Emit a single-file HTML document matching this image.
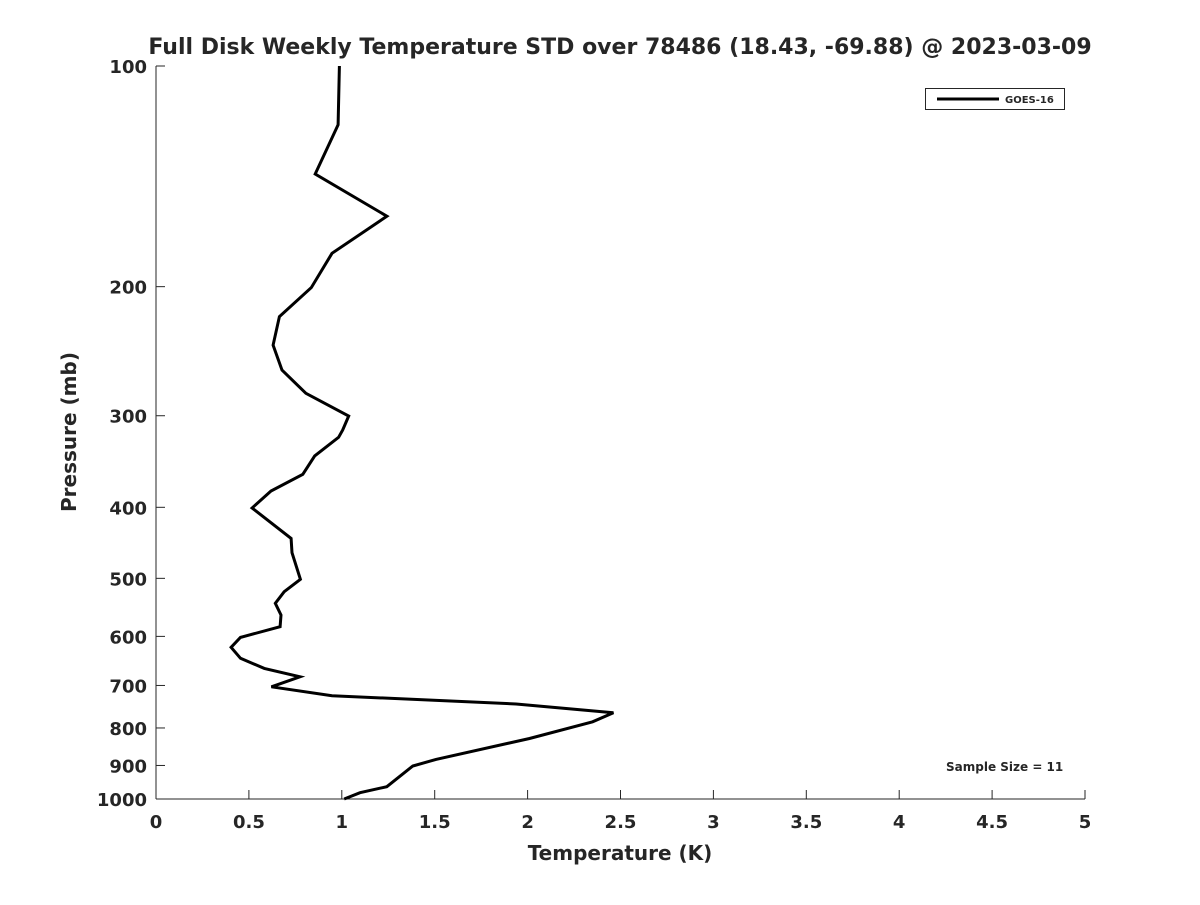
<!DOCTYPE html>
<html><head><meta charset="utf-8"><style>
body{margin:0;background:#fff}
text{font-family:"DejaVu Sans","Liberation Sans",sans-serif;fill:#262626;font-weight:bold}
</style></head><body>
<svg id="chart" width="1200" height="900" xmlns="http://www.w3.org/2000/svg">
<rect width="1200" height="900" fill="#fff"/>
<text x="620" y="54" text-anchor="middle" font-size="22">Full Disk Weekly Temperature STD over 78486 (18.43, -69.88) @ 2023-03-09</text>
<g id="axes"></g>
<polyline id="line" fill="none" stroke="#000" stroke-width="3" stroke-linejoin="miter"/>
<text x="620" y="860" text-anchor="middle" font-size="20">Temperature (K)</text>
<text transform="translate(76,432) rotate(-90)" text-anchor="middle" font-size="20">Pressure (mb)</text>
<g>
<rect x="925.5" y="88.5" width="139" height="21" fill="#fff" stroke="#262626" stroke-width="1"/>
<line x1="937" y1="99" x2="999" y2="99" stroke="#000" stroke-width="3"/>
<text x="1005" y="103" font-size="10">GOES-16</text>
</g>
<text x="946" y="771" font-size="12">Sample Size = 11</text>
</svg>
<script>
const pressures=[100,120.3,140.4,160.3,180.1,200.6,219.8,240.3,259.9,279.6,300.3,313.8,321,340.4,360.6,380,400.9,441,461.3,501.5,521.5,540.8,561,582,601.9,620.9,642.7,663.4,681.2,703,722.9,742,762.6,784.6,826.8,882.9,901.6,962.1,980.4,1000];
const tempStd=[0.987,0.98,0.857,1.243,0.947,0.836,0.664,0.63,0.678,0.807,1.037,1.005,0.983,0.854,0.79,0.619,0.517,0.727,0.732,0.777,0.69,0.642,0.673,0.668,0.455,0.404,0.455,0.583,0.775,0.621,0.947,1.938,2.462,2.35,2.01,1.507,1.382,1.242,1.098,1.013];
const xTicks=[0,0.5,1,1.5,2,2.5,3,3.5,4,4.5,5];
const xTickLabels=["0","0.5","1","1.5","2","2.5","3","3.5","4","4.5","5"];
const yTicks=[100,200,300,400,500,600,700,800,900,1000];
const yTickLabels=["100","200","300","400","500","600","700","800","900","1000"];
const X0=156,X1=1085,Y0=66,Y1=799;
const xs=v=>X0+(v-0)/(5-0)*(X1-X0);
const ys=p=>Y0+(Math.log10(p)-2)*(Y1-Y0);
const NS="http://www.w3.org/2000/svg";
const ax=document.getElementById('axes');
function mk(t,a){const e=document.createElementNS(NS,t);for(const k in a)e.setAttribute(k,a[k]);return e;}
const yl=mk('line',{x1:X0,y1:Y0,x2:X0,y2:Y1,stroke:'#262626','stroke-width':1});


ax.appendChild(yl);
const xl=mk('line',{x1:X0,y1:Y1,x2:X1,y2:Y1,stroke:'#262626','stroke-width':1});


ax.appendChild(xl);
xTicks.forEach((v,i)=>{const x=xs(v);
const t=mk('line',{x1:x,y1:Y1,x2:x,y2:Y1-9,stroke:'#262626','stroke-width':1});


ax.appendChild(t);
const l=mk('text',{x:x,y:Y1+29,'text-anchor':'middle','font-size':18});l.textContent=xTickLabels[i];


ax.appendChild(l);});
yTicks.forEach((v,i)=>{const y=ys(v);
const t=mk('line',{x1:X0,y1:y,x2:X0+9,y2:y,stroke:'#262626','stroke-width':1});


ax.appendChild(t);
const l=mk('text',{x:X0-9,y:y+7,'text-anchor':'end','font-size':18});l.textContent=yTickLabels[i];


ax.appendChild(l);});
document.getElementById('line').setAttribute('points',pressures.map((p,i)=>xs(tempStd[i]).toFixed(1)+','+ys(p).toFixed(1)).join(' '));
</script>
</body></html>
